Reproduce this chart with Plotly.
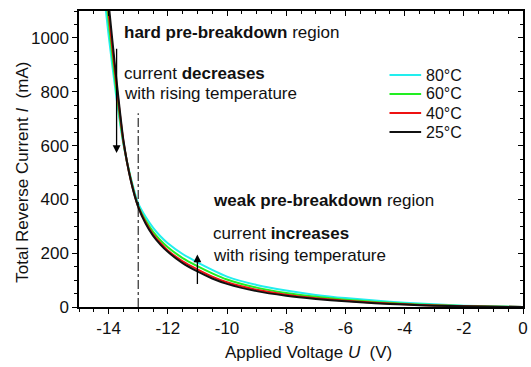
import plotly.graph_objects as go

# Applied voltage grid (V)
U = [-14.1, -14.0, -13.75, -13.5, -13.25, -13.0, -12.75, -12.5, -12.25, -12.0,
     -11.5, -11.0, -10.5, -10.0, -9.0, -8.0, -7.0, -6.0, -5.0, -4.0, -3.0, -2.0, -1.0, 0.0]

# Total reverse current (mA) per temperature
I_80 = [1110, 1010, 790, 605, 480, 385, 335, 295, 263, 237,
        197, 166, 138, 113, 82, 61, 45, 33, 24, 16, 10, 5, 2, 0]
I_60 = [1170, 1060, 815, 610, 475, 375, 322, 280, 248, 222,
        182, 152, 125, 102, 72, 52, 38, 27, 19, 12, 7, 4, 1.5, 0]
I_40 = [1215, 1095, 840, 615, 472, 373, 315, 270, 238, 210,
        170, 140, 113, 92, 64, 46, 33, 23, 16, 10, 6, 3, 1, 0]
I_25 = [1260, 1130, 860, 620, 470, 372, 310, 265, 232, 205,
        163, 132, 106, 86, 59, 42, 30, 21, 14, 9, 5, 2.5, 1, 0]

labels = ["80°C", "60°C", "40°C", "25°C"]
values = [I_80, I_60, I_40, I_25]
colors = ["#22eeee", "#22ee22", "#ee1111", "#111111"]

x_ticks = [-14, -12, -10, -8, -6, -4, -2, 0]
y_ticks = [0, 200, 400, 600, 800, 1000]
x_range = [-15, 0]
y_range = [0, 1100]

x_title = "Applied Voltage <i>U</i>  (V)"
y_title = "Total Reverse Current <i>I</i>  (mA)"

# annotation anchors
sep_U = -13.0
sep_top = 720
arrow_down = (-13.73, 965, 572)
arrow_up = (-11.0, 80, 195)

FONT = "Arial, Liberation Sans, sans-serif"

# plot area in pixels (for placing text / legend)
L, R, T, B = 79, 528, 11, 307


def px2paper(xp, yp):
    return (xp - L) / (R - L), (B - yp) / (B - T)


fig = go.Figure()
for name, vals, col in zip(labels, values, colors):
    fig.add_trace(go.Scatter(x=U, y=vals, mode="lines", name=name, showlegend=False,
                             line=dict(color=col, width=2, shape="spline", smoothing=0.6)))

# vertical dash-dot separator
fig.add_trace(go.Scatter(x=[sep_U, sep_U], y=[0, sep_top], mode="lines", showlegend=False,
                         line=dict(color="black", width=1, dash="dashdot"), hoverinfo="skip"))

# helper trace for mirrored axes
fig.add_trace(go.Scatter(x=[None], y=[None], xaxis="x2", yaxis="y2", showlegend=False,
                         hoverinfo="skip"))

for (xa, y0, y1) in [arrow_down, arrow_up]:
    fig.add_annotation(x=xa, y=y1, ax=xa, ay=y0,
                       xref="x", yref="y", axref="x", ayref="y", text="", showarrow=True,
                       arrowhead=2, arrowsize=1.2, arrowwidth=1.3, arrowcolor="black")

txt = dict(xref="paper", yref="paper", showarrow=False, xanchor="left", yanchor="middle",
           font=dict(family=FONT, size=17, color="#111"))

for s, (xp, yp) in [("<b>hard pre-breakdown</b> region", (122, 32)),
                    ("current <b>decreases</b>", (122, 73)),
                    ("with rising temperature", (122, 94)),
                    ("<b>weak pre-breakdown</b> region", (212, 200)),
                    ("current <b>increases</b>", (212, 233)),
                    ("with rising temperature", (212, 255))]:
    px_, py_ = px2paper(xp, yp)
    fig.add_annotation(x=px_, y=py_, text=s, **txt)

# axis titles (placed as annotations to match the reference offsets)
xt_, yt_ = px2paper(311, 352)
fig.add_annotation(x=xt_, y=yt_, text=x_title, xref="paper", yref="paper", showarrow=False,
                   xanchor="center", yanchor="middle", font=dict(family=FONT, size=17, color="#111"))
xt_, yt_ = px2paper(22, 172)
fig.add_annotation(x=xt_, y=yt_, text=y_title, xref="paper", yref="paper", showarrow=False,
                   textangle=-90, xanchor="center", yanchor="middle",
                   font=dict(family=FONT, size=17, color="#111"))

# manual legend (line sample + label)
for i, (name, col) in enumerate(zip(labels, colors)):
    yp = 75 + 19 * i
    x0, y0 = px2paper(393, yp)
    x1, _ = px2paper(425, yp)
    fig.add_shape(type="line", xref="paper", yref="paper", x0=x0, x1=x1, y0=y0, y1=y0,
                  line=dict(color=col, width=2))
    xt, _ = px2paper(428, yp)
    fig.add_annotation(x=xt, y=y0, text=name, xref="paper", yref="paper", showarrow=False,
                       xanchor="left", yanchor="middle",
                       font=dict(family=FONT, size=16, color="#111"))

axis_common = dict(showline=True, linecolor="black", linewidth=1.5, mirror=True,
                   ticks="outside", ticklen=5, tickwidth=1.2, tickcolor="black",
                   showgrid=False, zeroline=False,
                   tickfont=dict(family=FONT, size=17, color="#111"))

fig.update_layout(
    width=531, height=367,
    margin=dict(l=L, r=531 - R, t=T, b=367 - B),
    paper_bgcolor="white", plot_bgcolor="white",
    font=dict(family=FONT, color="#111"),
    showlegend=False,
    xaxis=dict(range=x_range, tickvals=x_ticks, ticktext=[str(v) for v in x_ticks],
               minor=dict(dtick=0.5, ticks="outside", ticklen=3, tickcolor="black"),
               **axis_common),
    yaxis=dict(range=y_range, tickvals=y_ticks,
               minor=dict(dtick=50, ticks="outside", ticklen=3, tickcolor="black"),
               **axis_common),
    xaxis2=dict(overlaying="x", side="top", range=x_range, tickvals=x_ticks,
                showticklabels=False, ticks="inside", ticklen=5, tickcolor="black",
                minor=dict(dtick=0.5, ticks="inside", ticklen=3, tickcolor="black"),
                showgrid=False, zeroline=False, showline=False),
    yaxis2=dict(overlaying="y", side="right", range=y_range, tickvals=y_ticks,
                showticklabels=False, ticks="inside", ticklen=5, tickcolor="black",
                minor=dict(dtick=50, ticks="inside", ticklen=3, tickcolor="black"),
                showgrid=False, zeroline=False, showline=False),
)

fig.write_html("out.html")
